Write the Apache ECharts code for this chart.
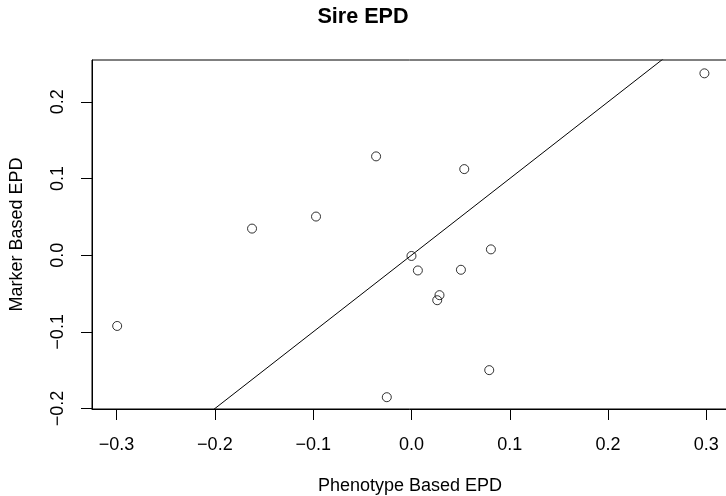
<!DOCTYPE html>
<html>
<head>
<meta charset="utf-8">
<script src="https://cdn.jsdelivr.net/npm/echarts@6/dist/echarts.min.js"></script>
<style>
html,body{margin:0;padding:0;background:#fff;}
#chart{width:726px;height:496px;}
</style>
</head>
<body>
<div id="chart"></div>
<script>
// Data
var phenotypeEPD = [-0.2994, -0.1622, -0.0971, -0.0360, -0.0251, 0.0000, 0.0065, 0.0262, 0.0285, 0.0503, 0.0537, 0.0808, 0.0791, 0.2980];
var markerEPD    = [-0.0923, 0.0347, 0.0504, 0.1289, -0.1852, -0.0010, -0.0199, -0.0587, -0.0521, -0.0190, 0.1123, 0.0076, -0.1499, 0.2372];
var xTicks = [-0.3, -0.2, -0.1, 0.0, 0.1, 0.2, 0.3];
var yTicks = [-0.2, -0.1, 0.0, 0.1, 0.2];
var refIntercept = 0, refSlope = 1;
var xMin = -0.325, xMax = 0.322;
var yMin = -0.2006, yMax = 0.2546;

var points = phenotypeEPD.map(function (x, i) { return [x, markerEPD[i]]; });
var refLine = [[xMin, refIntercept + refSlope * xMin], [xMax, refIntercept + refSlope * xMax]];

function fmt(v) {
  var s = Math.abs(v).toFixed(1);
  return (v < -1e-9 ? '\u2212' : '') + s;
}
var FONT = '"Liberation Sans", Arial, Helvetica, sans-serif';

var chart = echarts.init(document.getElementById('chart'), null, {renderer: 'canvas'});
chart.setOption({
  animation: false,
  backgroundColor: '#fff',
  title: {
    text: 'Sire EPD',
    left: 'center',
    top: 6,
    padding: 0,
    textStyle: {fontFamily: FONT, fontSize: 21.6, fontWeight: 'bold', color: '#000'}
  },
  grid: {
    left: 92, top: 60, right: -2, bottom: 87,
    show: true, borderColor: '#000', borderWidth: 1, backgroundColor: 'transparent',
    outerBoundsMode: 'none'
  },
  xAxis: {
    type: 'value', min: xMin, max: xMax,
    name: 'Phenotype Based EPD', nameLocation: 'middle', nameGap: 68,
    nameTextStyle: {fontFamily: FONT, fontSize: 18, color: '#000'},
    axisLine: {show: true, onZero: false, lineStyle: {color: '#000', width: 1}},
    axisTick: {show: true, length: 11, lineStyle: {color: '#000', width: 1}, customValues: xTicks},
    axisLabel: {show: true, margin: 27, fontFamily: FONT, fontSize: 18, color: '#000', customValues: xTicks, formatter: fmt},
    splitLine: {show: false}
  },
  yAxis: {
    type: 'value', min: yMin, max: yMax,
    name: 'Marker Based EPD', nameLocation: 'middle', nameGap: 66,
    nameTextStyle: {fontFamily: FONT, fontSize: 18, color: '#000'},
    axisLine: {show: true, onZero: false, lineStyle: {color: '#000', width: 1}},
    axisTick: {show: true, length: 11, lineStyle: {color: '#000', width: 1}, customValues: yTicks},
    axisLabel: {show: true, margin: 25, rotate: 90, fontFamily: FONT, fontSize: 18, color: '#000', customValues: yTicks, formatter: fmt},
    splitLine: {show: false}
  },
  series: [
    {
      type: 'line', data: refLine, symbol: 'none', clip: true,
      lineStyle: {color: '#000', width: 1}, silent: true
    },
    {
      type: 'scatter', data: points, symbol: 'circle', symbolSize: 9,
      itemStyle: {color: 'rgba(0,0,0,0)', borderColor: '#000', borderWidth: 1}
    }
  ]
});
</script>
</body>
</html>
